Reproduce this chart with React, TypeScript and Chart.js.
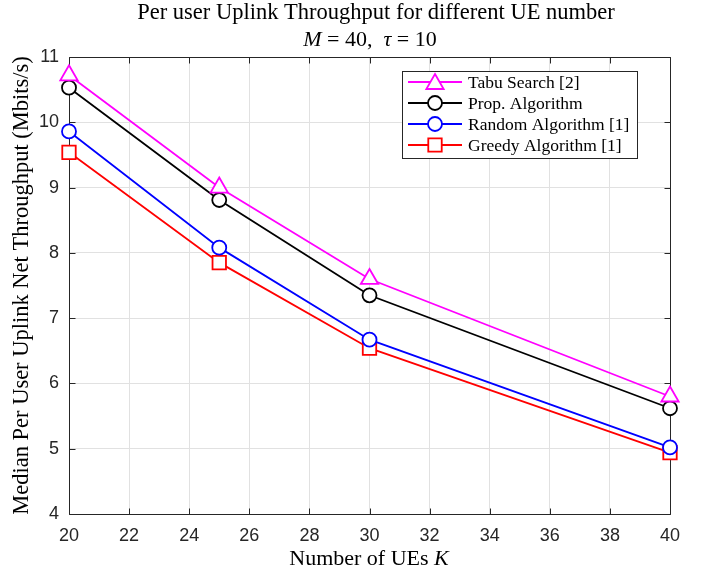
import React, { useEffect, useRef } from "react";
import { Chart, registerables } from "chart.js";

Chart.register(...registerables);

// ---- data ----
const ueCounts = [20, 25, 30, 40];
const tabuSearch = [10.72, 9.0, 7.6, 5.8];
const propAlgorithm = [10.53, 8.81, 7.35, 5.62];
const randomAlgorithm = [9.86, 8.08, 6.67, 5.02];
const greedyAlgorithm = [9.54, 7.85, 6.54, 4.94];

const seriesLabels = ["Tabu Search [2]", "Prop. Algorithm", "Random Algorithm [1]", "Greedy Algorithm [1]"];
const seriesColors = ["#ff00ff", "#000000", "#0000ff", "#ff0000"];
const seriesMarkers = ["triangle", "circle", "circle", "rect"];
const seriesValues = [tabuSearch, propAlgorithm, randomAlgorithm, greedyAlgorithm];

const xTickValues = [20, 22, 24, 26, 28, 30, 32, 34, 36, 38, 40];
const yTickValues = [4, 5, 6, 7, 8, 9, 10, 11];

const titleLine1: [string, boolean][] = [["Per user Uplink Throughput for different UE number", false]];
const titleLine2: [string, boolean][] = [["M", true], [" = 40,  ", false], ["τ", true], [" = 10", false]];
const xAxisLabel: [string, boolean][] = [["Number of UEs ", false], ["K", true]];
const yAxisLabel: [string, boolean][] = [["Median Per User Uplink Net Throughput (Mbits/s)", false]];

// ---- style ----
const SERIF = "'Liberation Serif', 'Times New Roman', serif";
const SANS = "'Liberation Sans', Arial, sans-serif";
const AXIS_COLOR = "#262626";
const GRID_COLOR = "#e1e1e1";
const markerRadius: Record<string, number> = { triangle: 10, circle: 7, rect: 9.5 };

function drawRich(ctx: CanvasRenderingContext2D, segs: [string, boolean][], cx: number, cy: number, size: number) {
  const fontOf = (it: boolean) => `${it ? "italic " : ""}${size}px ${SERIF}`;
  let total = 0;
  for (const [t, it] of segs) {
    ctx.font = fontOf(it);
    total += ctx.measureText(t).width;
  }
  let x = cx - total / 2;
  ctx.textAlign = "left";
  ctx.textBaseline = "alphabetic";
  for (const [t, it] of segs) {
    ctx.font = fontOf(it);
    ctx.fillText(t, x, cy);
    x += ctx.measureText(t).width;
  }
}

function drawMarker(ctx: CanvasRenderingContext2D, style: string, x: number, y: number, r: number) {
  ctx.beginPath();
  if (style === "circle") {
    ctx.arc(x, y, r, 0, Math.PI * 2);
  } else if (style === "rect") {
    const s = Math.SQRT1_2 * r;
    ctx.rect(x - s, y - s, 2 * s, 2 * s);
  } else {
    ctx.moveTo(x, y - r);
    ctx.lineTo(x + r * Math.sin((2 * Math.PI) / 3), y - r * Math.cos((2 * Math.PI) / 3));
    ctx.lineTo(x + r * Math.sin((4 * Math.PI) / 3), y - r * Math.cos((4 * Math.PI) / 3));
    ctx.closePath();
  }
  ctx.fill();
  ctx.stroke();
}

const decorPlugin = {
  id: "decor",
  beforeDatasetsDraw(chart: any) {
    const { ctx, chartArea: a, scales } = chart;
    ctx.save();
    ctx.strokeStyle = AXIS_COLOR;
    ctx.lineWidth = 1;
    const L = Math.round(a.left) + 0.5, R = Math.round(a.right) + 0.5;
    const T = Math.round(a.top) + 0.5, B = Math.round(a.bottom) + 0.5;
    ctx.beginPath();
    ctx.rect(L, T, R - L, B - T);
    ctx.stroke();
    const tl = 6;
    ctx.beginPath();
    for (const v of xTickValues) {
      const x = Math.round(scales.x.getPixelForValue(v)) + 0.5;
      ctx.moveTo(x, B); ctx.lineTo(x, B - tl);
      ctx.moveTo(x, T); ctx.lineTo(x, T + tl);
    }
    for (const v of yTickValues) {
      const y = Math.round(scales.y.getPixelForValue(v)) + 0.5;
      ctx.moveTo(L, y); ctx.lineTo(L + tl, y);
      ctx.moveTo(R, y); ctx.lineTo(R - tl, y);
    }
    ctx.stroke();
    ctx.restore();
  },
  afterDraw(chart: any) {
    const { ctx, chartArea: a } = chart;
    ctx.save();
    ctx.fillStyle = "#000000";
    // titles
    drawRich(ctx, titleLine1, 376, 19, 22.5);
    drawRich(ctx, titleLine2, 370, 46, 22);
    // x label
    drawRich(ctx, xAxisLabel, 369, 565, 22);
    // y label
    ctx.save();
    ctx.translate(28, (a.top + a.bottom) / 2);
    ctx.rotate(-Math.PI / 2);
    drawRich(ctx, yAxisLabel, 0, 0, 22.5);
    ctx.restore();

    // legend
    const bx = 402.5, by = 71.5, bw = 235, bh = 87;
    ctx.fillStyle = "#ffffff";
    ctx.fillRect(bx, by, bw, bh);
    ctx.strokeStyle = AXIS_COLOR;
    ctx.lineWidth = 1;
    ctx.strokeRect(bx, by, bw, bh);
    const rowY = [82, 103, 124, 145];
    seriesLabels.forEach((label, i) => {
      const y = rowY[i];
      ctx.strokeStyle = seriesColors[i];
      ctx.lineWidth = 1.8;
      ctx.beginPath();
      ctx.moveTo(408, y);
      ctx.lineTo(462, y);
      ctx.stroke();
      ctx.fillStyle = "#ffffff";
      const m = seriesMarkers[i];
      drawMarker(ctx, m, 435, m === "triangle" ? y + 2 : y, markerRadius[m]);
      ctx.fillStyle = "#000000";
      ctx.font = `17.5px ${SERIF}`;
      ctx.textAlign = "left";
      ctx.textBaseline = "middle";
      ctx.fillText(label, 468, y + 1);
    });
    ctx.restore();
  },
};

export default function App() {
  const ref = useRef<HTMLCanvasElement | null>(null);
  useEffect(() => {
    if (!ref.current) return;
    const datasets = seriesLabels.map((label, i) => ({
      label,
      data: ueCounts.map((x, j) => ({ x, y: seriesValues[i][j] })),
      borderColor: seriesColors[i],
      backgroundColor: "#ffffff",
      borderWidth: 1.8,
      pointStyle: seriesMarkers[i] as any,
      pointRadius: markerRadius[seriesMarkers[i]],
      pointBorderWidth: 1.8,
      pointBorderColor: seriesColors[i],
      pointBackgroundColor: "#ffffff",
      tension: 0,
      fill: false,
      clip: false as any,
    }));
    const chart = new Chart(ref.current, {
      type: "line",
      data: { datasets },
      plugins: [decorPlugin],
      options: {
        animation: false,
        responsive: false,
        devicePixelRatio: 1,
        layout: { padding: { top: 57, right: 32, left: 0, bottom: 0 } },
        plugins: { legend: { display: false }, title: { display: false }, tooltip: { enabled: false } },
        scales: {
          x: {
            type: "linear",
            min: 20,
            max: 40,
            afterBuildTicks: (axis: any) => {
              axis.ticks = xTickValues.map((v) => ({ value: v }));
            },
            afterFit: (s: any) => {
              s.height = 56;
            },
            grid: { color: GRID_COLOR, drawTicks: false, lineWidth: 1 },
            border: { display: false },
            ticks: { font: { family: SANS, size: 18 }, color: AXIS_COLOR, padding: 11, maxRotation: 0, autoSkip: false },
          },
          y: {
            type: "linear",
            min: 4,
            max: 11,
            afterBuildTicks: (axis: any) => {
              axis.ticks = yTickValues.map((v) => ({ value: v }));
            },
            afterFit: (s: any) => {
              s.width = 69;
            },
            grid: { color: GRID_COLOR, drawTicks: false, lineWidth: 1 },
            border: { display: false },
            ticks: { font: { family: SANS, size: 18 }, color: AXIS_COLOR, padding: 10, autoSkip: false },
          },
        },
      },
    });
    return () => chart.destroy();
  }, []);
  return (
    <div style={{ position: "fixed", left: 0, top: 0, width: 702, height: 570, background: "#ffffff" }}>
      <canvas ref={ref} width={702} height={570} />
    </div>
  );
}
